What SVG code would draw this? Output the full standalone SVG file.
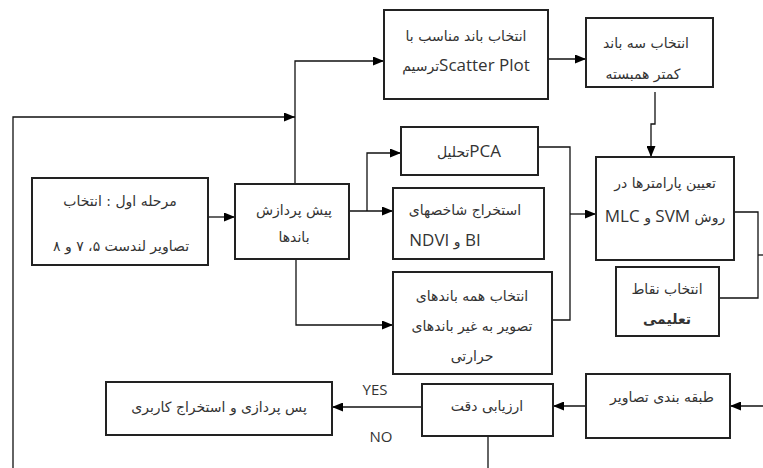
<svg xmlns="http://www.w3.org/2000/svg" width="763" height="468" viewBox="0 0 763 468">
<style>
.box{fill:#fff;stroke:#222;stroke-width:2}
.ln{fill:none;stroke:#111;stroke-width:1.3}
.fa{font-family:"DejaVu Sans",sans-serif;font-size:14px;fill:#333;text-anchor:middle;direction:rtl}
.en{font-family:"Open Sans","Noto Sans",sans-serif;font-size:17px;fill:#333}
.lbl{font-family:"Open Sans","Noto Sans",sans-serif;font-size:15px;fill:#333;text-anchor:middle}
</style>
<defs>
<marker id="arr" markerUnits="userSpaceOnUse" markerWidth="11" markerHeight="9" refX="11" refY="4.5" orient="auto">
<path d="M0,0 L11,4.5 L0,9 z" fill="#000"/>
</marker>
</defs>
<rect width="763" height="468" fill="#fff"/>
<g id="connectors">
<path class="ln" d="M13,468 V117 H295" marker-end="url(#arr)"/>
<path class="ln" d="M295,184 V61 H384" marker-end="url(#arr)"/>
<path class="ln" d="M548,59 H586" marker-end="url(#arr)"/>
<path class="ln" d="M655,92 V124 H651 V157" marker-end="url(#arr)"/>
<path class="ln" d="M208,217 H235" marker-end="url(#arr)"/>
<path class="ln" d="M349,211 H393" marker-end="url(#arr)"/>
<path class="ln" d="M367,211 V153 H401" marker-end="url(#arr)"/>
<path class="ln" d="M296,259 V325 H393" marker-end="url(#arr)"/>
<path class="ln" d="M538,147 H570 V320 H552"/>
<path class="ln" d="M570,214 H596" marker-end="url(#arr)"/>
<path class="ln" d="M734,212 H758 V298 H719"/>
<path class="ln" d="M758,255 H763"/>
<path class="ln" d="M763,406 H730" marker-end="url(#arr)"/>
<path class="ln" d="M586,406 H553" marker-end="url(#arr)"/>
<path class="ln" d="M422,407 H332" marker-end="url(#arr)"/>
<path class="ln" d="M488,436 V468"/>
<text class="lbl" x="375" y="395">YES</text>
<text class="lbl" x="381" y="442">NO</text>
</g>
<g id="n1">
<rect class="box" x="32" y="178" width="176" height="87"/>
<text class="fa" x="120" y="206">مرحله اول : انتخاب</text>
<text class="fa" x="121" y="251">تصاویر لندست ۵، ۷ و ۸</text>
</g>
<g id="n2">
<rect class="box" x="235" y="184" width="114" height="75"/>
<text class="fa" x="294" y="215">پیش پردازش</text>
<text class="fa" x="294" y="242">باندها</text>
</g>
<g id="n3">
<rect class="box" x="384" y="10" width="164" height="89"/>
<text class="fa" x="466" y="41">انتخاب باند مناسب با</text>
<text class="fa" x="466" y="71"><tspan class="en">Scatter Plot</tspan>ترسیم</text>
</g>
<g id="n4">
<rect class="box" x="586" y="18" width="127" height="69"/>
<text class="fa" x="646" y="48">انتخاب سه باند</text>
<text class="fa" x="643" y="79">کمتر همبسته</text>
</g>
<g id="n5">
<rect class="box" x="401" y="127" width="137" height="48"/>
<text class="fa" x="469" y="157"><tspan class="en">PCA</tspan>تحلیل</text>
</g>
<g id="n6">
<rect class="box" x="393" y="188" width="151" height="71"/>
<text class="fa" x="465" y="215">استخراج شاخصهای</text>
<text class="fa" x="445" y="246"><tspan class="en">BI</tspan> و <tspan class="en">NDVI</tspan></text>
</g>
<g id="n7">
<rect class="box" x="393" y="272" width="159" height="102"/>
<text class="fa" x="472" y="301">انتخاب همه باندهای</text>
<text class="fa" x="472" y="331">تصویر به غیر باندهای</text>
<text class="fa" x="472" y="361">حرارتی</text>
</g>
<g id="n8">
<rect class="box" x="596" y="157" width="138" height="103"/>
<text class="fa" x="665" y="188">تعیین پارامترها در</text>
<text class="fa" x="665" y="222">روش <tspan class="en" font-size="18">SVM</tspan> و <tspan class="en" font-size="18">MLC</tspan></text>
</g>
<g id="n9">
<rect class="box" x="616" y="267" width="103" height="69"/>
<text class="fa" x="667" y="294">انتخاب نقاط</text>
<text class="fa" x="667" y="324" font-weight="bold">تعلیمی</text>
</g>
<g id="n10">
<rect class="box" x="586" y="374" width="144" height="64"/>
<text class="fa" x="662" y="402">طبقه بندی تصاویر</text>
</g>
<g id="n11">
<rect class="box" x="422" y="384" width="131" height="52"/>
<text class="fa" x="487" y="411">ارزیابی دقت</text>
</g>
<g id="n12">
<rect class="box" x="106" y="382" width="226" height="53"/>
<text class="fa" x="219" y="412">پس پردازی و استخراج کاربری</text>
</g>
</svg>
